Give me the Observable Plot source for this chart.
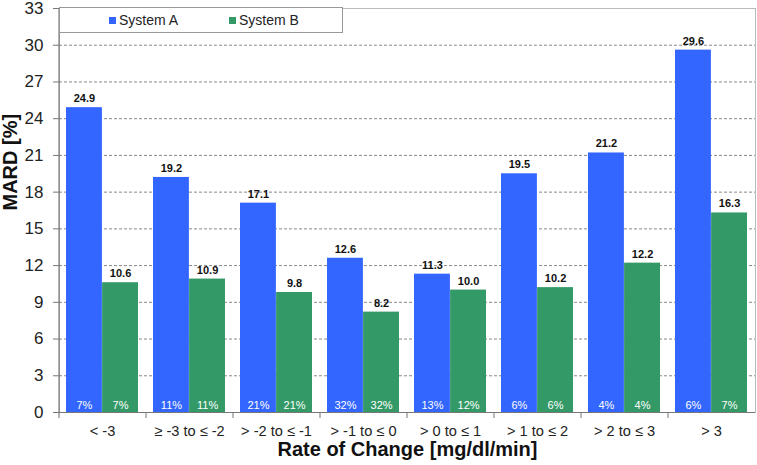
<!DOCTYPE html>
<html>
<head>
<meta charset="utf-8">
<script src="https://cdn.jsdelivr.net/npm/d3@7"></script>
<script src="https://cdn.jsdelivr.net/npm/@observablehq/plot@0.6"></script>
<style>
  html, body { margin: 0; padding: 0; background: #fff; }
  #wrap { position: relative; width: 757px; height: 465px; font-family: "Liberation Sans", Arial, Helvetica, sans-serif; }
  #legend { position: absolute; left: 59px; top: 7px; width: 284px; height: 26px; background: #fff; border: 1px solid #999; box-sizing: border-box; font-size: 14px; color: #222; }
  #legend .item { position: absolute; top: 4px; display: flex; align-items: center; }
  #legend .sw { width: 7px; height: 7px; margin-right: 3px; }
</style>
</head>
<body>
<div id="wrap"><div id="chart"></div><div id="legend"></div></div>
<script>
const categories = ["< -3", "≥ -3 to ≤ -2", "> -2 to ≤ -1", "> -1 to ≤ 0", "> 0 to ≤ 1", "> 1 to ≤ 2", "> 2 to ≤ 3", "> 3"];
const seriesNames = ["System A", "System B"];
const systemA = [24.9, 19.2, 17.1, 12.6, 11.3, 19.5, 21.2, 29.6];
const systemB = [10.6, 10.9, 9.8, 8.2, 10.0, 10.2, 12.2, 16.3];
const shareA = [7, 11, 21, 32, 13, 6, 4, 6];
const shareB = [7, 11, 21, 32, 12, 6, 4, 7];
const yTicks = [0, 3, 6, 9, 12, 15, 18, 21, 24, 27, 30, 33];
const colors = ["#3366ff", "#339966"];

const width = 757, height = 465;
const ml = 59, mr = 2, mt = 8, mb = 53;
const padIn = 0.17, padOut = 0.085;
const n = categories.length;
const step = (width - ml - mr) / (n - padIn + 2 * padOut);
const bw = step * (1 - padIn);
const plotH = height - mt - mb;

const rowsA = categories.map((c, i) => ({category: c, value: systemA[i], share: shareA[i]}));
const rowsB = categories.map((c, i) => ({category: c, value: systemB[i], share: shareB[i]}));

const chart = Plot.plot({
  width, height,
  marginLeft: ml, marginRight: mr, marginTop: mt, marginBottom: mb,
  style: {fontFamily: '"Liberation Sans", Arial, Helvetica, sans-serif', color: "#222", background: "#fff"},
  x: {domain: categories, paddingInner: padIn, paddingOuter: padOut, label: null},
  y: {domain: [0, 33], label: null},
  marks: [
    Plot.frame({stroke: "#bbb"}),
    Plot.gridY(yTicks.filter(t => t > 0 && t < 33), {stroke: "#888", strokeOpacity: 1, strokeDasharray: "3,2"}),
    Plot.barY(rowsA, {x: "category", y: "value", fill: colors[0], insetRight: bw / 2}),
    Plot.barY(rowsB, {x: "category", y: "value", fill: colors[1], insetLeft: bw / 2}),
    Plot.text(rowsA, {x: "category", y: "value", text: d => d.value.toFixed(1), dx: -bw / 4, dy: -9, fontSize: 11, fontWeight: "bold", fill: "#111"}),
    Plot.text(rowsB, {x: "category", y: "value", text: d => d.value.toFixed(1), dx: bw / 4, dy: -9, fontSize: 11, fontWeight: "bold", fill: "#111"}),
    Plot.text(rowsA, {x: "category", y: () => 0, text: d => d.share + "%", dx: -bw / 4, dy: -7, fontSize: 11, fill: "#fff"}),
    Plot.text(rowsB, {x: "category", y: () => 0, text: d => d.share + "%", dx: bw / 4, dy: -7, fontSize: 11, fill: "#fff"}),
    Plot.ruleY([0], {stroke: "#777"}),
    Plot.ruleX(categories.slice(0, 1), {x: d => d, dx: -step / 2, stroke: "#666", insetBottom: -6}),
    Plot.ruleX(categories.slice(1), {x: d => d, dx: -step / 2, stroke: "#777", insetTop: plotH, insetBottom: -6}),
    Plot.axisY({ticks: yTicks, tickSize: 6, tickPadding: 10, fontSize: 17, label: null, stroke: "#777"}),
    Plot.axisX({tickSize: 0, tickPadding: 13, fontSize: 14.6, label: null}),
    Plot.text(["MARD [%]"], {text: d => d, frameAnchor: "left", dx: -49, rotate: -90, fontSize: 20, fontWeight: "bold", fill: "#111"}),
    Plot.text(["Rate of Change [mg/dl/min]"], {text: d => d, frameAnchor: "bottom", dy: 43, fontSize: 20, fontWeight: "bold", fill: "#111"})
  ]
});
document.getElementById("chart").appendChild(chart);

const legend = document.getElementById("legend");
const legendX = [49, 169];
seriesNames.forEach((name, i) => {
  const item = document.createElement("div");
  item.className = "item";
  item.style.left = legendX[i] + "px";
  const sw = document.createElement("span");
  sw.className = "sw";
  sw.style.background = colors[i];
  const label = document.createElement("span");
  label.textContent = name;
  item.appendChild(sw);
  item.appendChild(label);
  legend.appendChild(item);
});
</script>
</body>
</html>
